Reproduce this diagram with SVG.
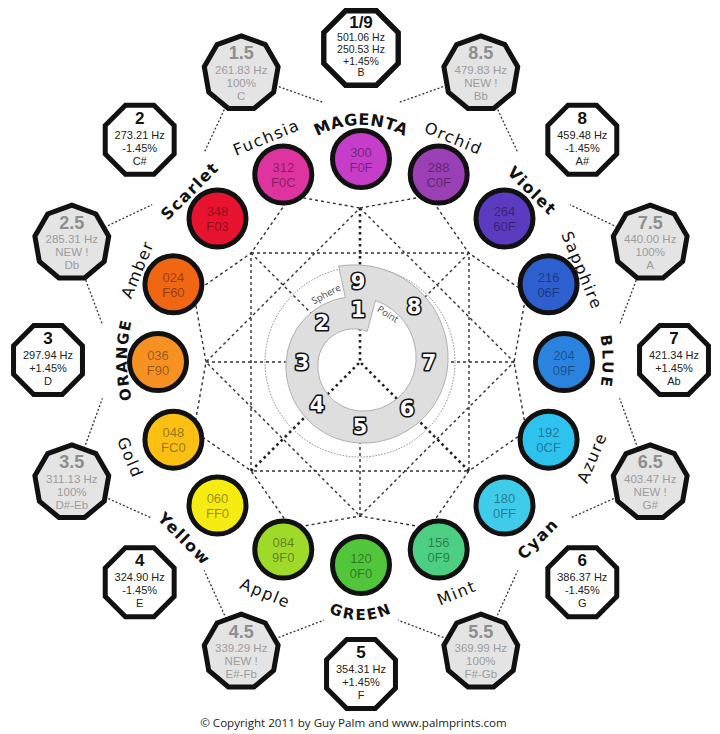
<svg xmlns="http://www.w3.org/2000/svg" xmlns:xlink="http://www.w3.org/1999/xlink" width="720" height="734" viewBox="0 0 720 734">
<style>
.bg{fill:#fff}
.w{fill:#fff;stroke:#111;stroke-width:5;stroke-linejoin:miter}
.g{fill:#e4e4e4;stroke:#111;stroke-width:5;stroke-linejoin:miter}
.wt{font-family:"Liberation Sans",Arial,sans-serif;text-anchor:middle;fill:#222}
.wt .t{font-size:17px;font-weight:bold;fill:#111}
.wt .l{font-size:11px}
.wt .s{font-size:10.5px}
.gt{font-family:"Liberation Sans",Arial,sans-serif;text-anchor:middle;fill:#9c9c9c}
.gt .t{font-size:18px;font-weight:bold;fill:#8e8e8e}
.gt .l{font-size:11.5px}
.cc{stroke:#111;stroke-width:5}
.ct{font-family:"Liberation Sans",Arial,sans-serif;font-size:13px;text-anchor:middle;fill:#000;fill-opacity:.42}
.lab{font-family:"DejaVu Sans",sans-serif;font-size:16px;letter-spacing:1.5px;fill:#111;text-anchor:middle;dominant-baseline:central}
.b{font-weight:bold}
.cap{font-family:"DejaVu Sans",sans-serif;font-size:15px;font-weight:900;letter-spacing:1.5px;fill:#111}
.dot{stroke:#333;stroke-width:1.3;stroke-dasharray:2 2;fill:none}
.dash{stroke:#333;stroke-width:1.4;stroke-dasharray:3 3;fill:none}
.thick{stroke:#222;stroke-width:2.6;stroke-dasharray:2.6 3.4;fill:none}
.fine{stroke:#777;stroke-width:0.9;stroke-dasharray:1.5 1.5;fill:none}
.ring{fill:#dedede;stroke:#a8a8a8;stroke-width:0.9;fill-rule:evenodd}
.num{font-family:"DejaVu Sans",sans-serif;font-size:21px;font-weight:bold;fill:#fff;stroke:#111;stroke-width:3.2;paint-order:stroke;text-anchor:middle;dominant-baseline:central;stroke-linejoin:round}
.sm{font-family:"Open Sans","DejaVu Sans",sans-serif;font-size:9.5px;fill:#444;text-anchor:middle;dominant-baseline:central}
.copy{font-family:"Open Sans","DejaVu Sans",sans-serif;font-size:11.6px;fill:#222;text-anchor:middle}
</style>
<defs>
<polygon id="oct" points="14.27,-34.46 34.46,-14.27 34.46,14.27 14.27,34.46 -14.27,34.46 -34.46,14.27 -34.46,-14.27 -14.27,-34.46"/>
<polygon id="non" points="0,-37.5 24.1,-28.73 36.93,-6.51 32.48,18.75 12.83,35.24 -12.83,35.24 -32.48,18.75 -36.93,-6.51 -24.1,-28.73"/>
<path id="arcTop" d="M303.1,146.1 A90,90 0 0 1 418.9,146.1"/>
<path id="arcBot" d="M316,603.6 A70,70 0 0 0 406,603.6"/>
<path id="arcL" d="M136.6,414.7 A160,160 0 0 1 136.6,305.3"/>
<path id="arcR" d="M592.9,307.3 A160,160 0 0 1 592.9,416.7"/>
<path id="hole" d="M367.2,331.4 A36,36 0 0 0 318,362 A45,45 0 0 0 359,411 A53,53 0 0 0 416,362 A60.5,60.5 0 0 0 375.5,300.5 Z"/>
</defs>
<rect class="bg" x="0" y="0" width="720" height="734"/>

<g id="connectors">
<line class="dot" x1="241.2" y1="73.3" x2="324.1" y2="102.8"/>
<line class="dot" x1="241.2" y1="73.3" x2="204.2" y2="152.5"/>
<line class="dot" x1="480.8" y1="73.3" x2="397.9" y2="102.8"/>
<line class="dot" x1="480.8" y1="73.3" x2="517.8" y2="152.5"/>
<line class="dot" x1="650.2" y1="242.7" x2="569.9" y2="204.7"/>
<line class="dot" x1="650.2" y1="242.7" x2="619.6" y2="324.6"/>
<line class="dot" x1="650.2" y1="482.3" x2="619.6" y2="398.4"/>
<line class="dot" x1="650.2" y1="482.3" x2="569.9" y2="518.2"/>
<line class="dot" x1="480.8" y1="651.7" x2="517.8" y2="570.4"/>
<line class="dot" x1="480.8" y1="651.7" x2="397.9" y2="620.1"/>
<line class="dot" x1="241.2" y1="651.7" x2="324.1" y2="620.1"/>
<line class="dot" x1="241.2" y1="651.7" x2="204.2" y2="570.4"/>
<line class="dot" x1="71.8" y1="482.3" x2="152.1" y2="518.2"/>
<line class="dot" x1="71.8" y1="482.3" x2="102.4" y2="398.4"/>
<line class="dot" x1="71.8" y1="242.7" x2="102.4" y2="324.6"/>
<line class="dot" x1="71.8" y1="242.7" x2="152.1" y2="204.7"/>
<polygon class="dash" points="360,208 428.9,195.7 468.9,253.1 526.3,293.1 514,362 526.3,430.9 468.9,470.9 428.9,528.3 360,516 291.1,528.3 251.1,470.9 193.7,430.9 206,362 193.7,293.1 251.1,253.1 291.1,195.7"/>
<rect class="dash" x="251" y="253" width="218" height="218"/>
<polygon class="dash" points="360,208 514,362 360,516 206,362"/>
<line class="dash" x1="206" y1="362" x2="360" y2="362"/>
<line class="dash" x1="514" y1="362" x2="360" y2="362"/>
<line class="dash" x1="360" y1="516" x2="360" y2="362"/>
<line class="dash" x1="251" y1="253" x2="360" y2="362"/>
<line class="dash" x1="469" y1="253" x2="360" y2="362"/>
<circle class="fine" cx="360" cy="362" r="95"/>
<use href="#hole" fill="#fff"/>
<line class="thick" x1="360" y1="208" x2="360" y2="362"/>
<line class="thick" x1="251" y1="471" x2="360" y2="362"/>
<line class="thick" x1="469" y1="471" x2="360" y2="362"/>
</g>

<g id="spiral">
<path class="ring" d="M345.26,297.38 A69.5,69.5 0 0 0 286,362 A77,77 0 0 0 359,443 A85,85 0 0 0 448,362 A93,93 0 0 0 359,265 A97.5,97.5 0 0 0 338.61,266.08 Z M367.2,331.4 A36,36 0 0 0 318,362 A45,45 0 0 0 359,411 A53,53 0 0 0 416,362 A60.5,60.5 0 0 0 375.5,300.5 Z"/>
<text class="num" x="358" y="282">9</text>
<text class="num" x="358" y="310">1</text>
<text class="num" x="322" y="323">2</text>
<text class="num" x="302" y="363">3</text>
<text class="num" x="317" y="405">4</text>
<text class="num" x="360" y="427">5</text>
<text class="num" x="407" y="409">6</text>
<text class="num" x="429" y="363">7</text>
<text class="num" x="414" y="307">8</text>
<text class="sm" transform="translate(326 294) rotate(-28)">Sphere</text>
<text class="sm" transform="translate(388 314) rotate(32)">Point</text>
</g>

<g id="c300"><circle class="cc" cx="361" cy="159" r="28.5" fill="#c53dc9"/><text class="ct" x="361" y="156.5">300</text><text class="ct" x="361" y="171.5">F0F</text></g>
<g id="c288"><circle class="cc" cx="438.7" cy="174.5" r="28.5" fill="#9b3fb5"/><text class="ct" x="438.7" y="172">288</text><text class="ct" x="438.7" y="187">C0F</text></g>
<g id="c264"><circle class="cc" cx="504.5" cy="218.5" r="28.5" fill="#5b3bbf"/><text class="ct" x="504.5" y="216">264</text><text class="ct" x="504.5" y="231">60F</text></g>
<g id="c216"><circle class="cc" cx="548.6" cy="284.3" r="28.5" fill="#2e5fcf"/><text class="ct" x="548.6" y="281.8">216</text><text class="ct" x="548.6" y="296.8">06F</text></g>
<g id="c204"><circle class="cc" cx="564" cy="362" r="28.5" fill="#2a84df"/><text class="ct" x="564" y="359.5">204</text><text class="ct" x="564" y="374.5">09F</text></g>
<g id="c192"><circle class="cc" cx="548.6" cy="439.7" r="28.5" fill="#2ec2ef"/><text class="ct" x="548.6" y="437.2">192</text><text class="ct" x="548.6" y="452.2">0CF</text></g>
<g id="c180"><circle class="cc" cx="504.5" cy="505.5" r="28.5" fill="#3fcbea"/><text class="ct" x="504.5" y="503">180</text><text class="ct" x="504.5" y="518">0FF</text></g>
<g id="c156"><circle class="cc" cx="438.7" cy="549.6" r="28.5" fill="#4ccf82"/><text class="ct" x="438.7" y="547.1">156</text><text class="ct" x="438.7" y="562.1">0F9</text></g>
<g id="c120"><circle class="cc" cx="361" cy="565" r="28.5" fill="#52c63a"/><text class="ct" x="361" y="562.5">120</text><text class="ct" x="361" y="577.5">0F0</text></g>
<g id="c084"><circle class="cc" cx="283.3" cy="549.6" r="28.5" fill="#9fd92a"/><text class="ct" x="283.3" y="547.1">084</text><text class="ct" x="283.3" y="562.1">9F0</text></g>
<g id="c060"><circle class="cc" cx="217.5" cy="505.5" r="28.5" fill="#f7ec12"/><text class="ct" x="217.5" y="503">060</text><text class="ct" x="217.5" y="518">FF0</text></g>
<g id="c048"><circle class="cc" cx="173.4" cy="439.7" r="28.5" fill="#fbc012"/><text class="ct" x="173.4" y="437.2">048</text><text class="ct" x="173.4" y="452.2">FC0</text></g>
<g id="c036"><circle class="cc" cx="158" cy="362" r="28.5" fill="#f79222"/><text class="ct" x="158" y="359.5">036</text><text class="ct" x="158" y="374.5">F90</text></g>
<g id="c024"><circle class="cc" cx="173.4" cy="284.3" r="28.5" fill="#f06612"/><text class="ct" x="173.4" y="281.8">024</text><text class="ct" x="173.4" y="296.8">F60</text></g>
<g id="c348"><circle class="cc" cx="217.5" cy="218.5" r="28.5" fill="#e8142f"/><text class="ct" x="217.5" y="216">348</text><text class="ct" x="217.5" y="231">F03</text></g>
<g id="c312"><circle class="cc" cx="283.3" cy="174.5" r="28.5" fill="#df339f"/><text class="ct" x="283.3" y="172">312</text><text class="ct" x="283.3" y="187">F0C</text></g>

<g id="labels">
<text class="cap" style="font-size:16px;letter-spacing:0.5px"><textPath href="#arcTop" startOffset="50%" text-anchor="middle">MAGENTA</textPath></text>
<text class="cap" style="letter-spacing:2px"><textPath href="#arcBot" startOffset="50%" text-anchor="middle">GREEN</textPath></text>
<text class="cap"><textPath href="#arcL" startOffset="50%" text-anchor="middle">ORANGE</textPath></text>
<text class="cap" style="letter-spacing:2.5px"><textPath href="#arcR" startOffset="50%" text-anchor="middle">BLUE</textPath></text>
<text class="lab" transform="translate(453.6 138.4) rotate(22.5)">Orchid</text>
<text class="lab b" transform="translate(532.1 190.9) rotate(45)">Violet</text>
<text class="lab" transform="translate(582 270.5) rotate(67.5)">Sapphire</text>
<text class="lab" transform="translate(592 457.7) rotate(-67.5)">Azure</text>
<text class="lab b" transform="translate(537.8 538.8) rotate(-45)">Cyan</text>
<text class="lab" transform="translate(456.7 593) rotate(-22.5)">Mint</text>
<text class="lab" transform="translate(265.3 593) rotate(22.5)">Apple</text>
<text class="lab b" transform="translate(184.2 538.8) rotate(45)">Yellow</text>
<text class="lab" transform="translate(130 457.7) rotate(67.5)">Gold</text>
<text class="lab" transform="translate(137.4 269.4) rotate(-67.5)">Amber</text>
<text class="lab b" transform="translate(189.9 190.9) rotate(-45)">Scarlet</text>
<text class="lab" transform="translate(266.5 137.5) rotate(-22.5)">Fuchsia</text>
</g>

<g id="n19" transform="translate(361 48)"><use href="#oct" class="w" transform="scale(1.08)"/><g class="wt"><text class="t" y="-20">1/9</text><text class="s" y="-6.8">501.06 Hz</text><text class="s" y="4.9">250.53 Hz</text><text class="s" y="16.6">+1.45%</text><text class="s" y="28.3">B</text></g></g>
<g id="n2" transform="translate(139.7 139.7)"><use href="#oct" class="w"/><g class="wt"><text class="t" y="-16">2</text><text class="l" y="-1">273.21 Hz</text><text class="l" y="12">-1.45%</text><text class="l" y="25">C#</text></g></g>
<g id="n3" transform="translate(48 360)"><use href="#oct" class="w"/><g class="wt"><text class="t" y="-16">3</text><text class="l" y="-1">297.94 Hz</text><text class="l" y="12">+1.45%</text><text class="l" y="25">D</text></g></g>
<g id="n4" transform="translate(139.7 582.3)"><use href="#oct" class="w"/><g class="wt"><text class="t" y="-16">4</text><text class="l" y="-1">324.90 Hz</text><text class="l" y="12">-1.45%</text><text class="l" y="25">E</text></g></g>
<g id="n5" transform="translate(361 674)"><use href="#oct" class="w"/><g class="wt"><text class="t" y="-16">5</text><text class="l" y="-1">354.31 Hz</text><text class="l" y="12">+1.45%</text><text class="l" y="25">F</text></g></g>
<g id="n6" transform="translate(582.3 582.3)"><use href="#oct" class="w"/><g class="wt"><text class="t" y="-16">6</text><text class="l" y="-1">386.37 Hz</text><text class="l" y="12">-1.45%</text><text class="l" y="25">G</text></g></g>
<g id="n7" transform="translate(674 360)"><use href="#oct" class="w"/><g class="wt"><text class="t" y="-16">7</text><text class="l" y="-1">421.34 Hz</text><text class="l" y="12">+1.45%</text><text class="l" y="25">Ab</text></g></g>
<g id="n8" transform="translate(582.3 139.7)"><use href="#oct" class="w"/><g class="wt"><text class="t" y="-16">8</text><text class="l" y="-1">459.48 Hz</text><text class="l" y="12">-1.45%</text><text class="l" y="25">A#</text></g></g>

<g id="n15" transform="translate(241.2 73.3)"><use href="#non" class="g"/><g class="gt"><text class="t" y="-14">1.5</text><text class="l" y="0.5">261.83 Hz</text><text class="l" y="13.4">100%</text><text class="l" y="26.3">C</text></g></g>
<g id="n25" transform="translate(71.8 242.7)"><use href="#non" class="g"/><g class="gt"><text class="t" y="-14">2.5</text><text class="l" y="0.5">285.31 Hz</text><text class="l" y="13.4">NEW !</text><text class="l" y="26.3">Db</text></g></g>
<g id="n35" transform="translate(71.8 482.3)"><use href="#non" class="g"/><g class="gt"><text class="t" y="-14">3.5</text><text class="l" y="0.5">311.13 Hz</text><text class="l" y="13.4">100%</text><text class="l" y="26.3">D#-Eb</text></g></g>
<g id="n45" transform="translate(241.2 651.7)"><use href="#non" class="g"/><g class="gt"><text class="t" y="-14">4.5</text><text class="l" y="0.5">339.29 Hz</text><text class="l" y="13.4">NEW !</text><text class="l" y="26.3">E#-Fb</text></g></g>
<g id="n55" transform="translate(480.8 651.7)"><use href="#non" class="g"/><g class="gt"><text class="t" y="-14">5.5</text><text class="l" y="0.5">369.99 Hz</text><text class="l" y="13.4">100%</text><text class="l" y="26.3">F#-Gb</text></g></g>
<g id="n65" transform="translate(650.2 482.3)"><use href="#non" class="g"/><g class="gt"><text class="t" y="-14">6.5</text><text class="l" y="0.5">403.47 Hz</text><text class="l" y="13.4">NEW !</text><text class="l" y="26.3">G#</text></g></g>
<g id="n75" transform="translate(650.2 242.7)"><use href="#non" class="g"/><g class="gt"><text class="t" y="-14">7.5</text><text class="l" y="0.5">440.00 Hz</text><text class="l" y="13.4">100%</text><text class="l" y="26.3">A</text></g></g>
<g id="n85" transform="translate(480.8 73.3)"><use href="#non" class="g"/><g class="gt"><text class="t" y="-14">8.5</text><text class="l" y="0.5">479.83 Hz</text><text class="l" y="13.4">NEW !</text><text class="l" y="26.3">Bb</text></g></g>

<text class="copy" x="353.5" y="727">© Copyright 2011 by Guy Palm and www.palmprints.com</text>
</svg>
